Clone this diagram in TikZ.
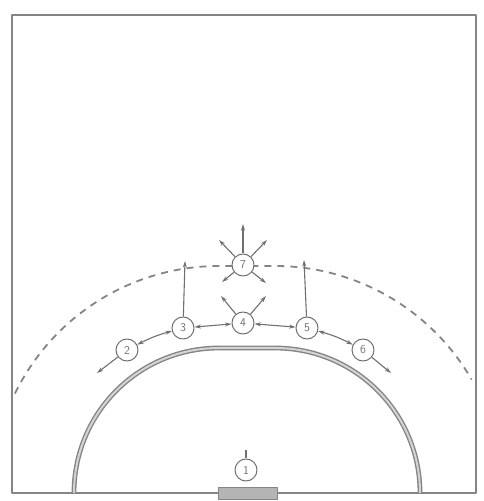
\documentclass[tikz,border=0pt]{standalone}
\usetikzlibrary{arrows.meta, calc}
\definecolor{hbline}{HTML}{858585}
\definecolor{hbplayer}{HTML}{707070}
\definecolor{hbgoal}{HTML}{B4B4B4}
\tikzset{
  every picture/.style={line join=round},
  court/.style={draw=hbline, line width=2.4pt},
  sixm/.style={draw=hbline, line width=1.4pt, double=hbline!35, double distance=2pt},
  ninem/.style={draw=hbline, line width=1.8pt, dash pattern=on 7pt off 6pt},
  goalbox/.style={rectangle, draw=hbline, fill=hbgoal, line width=0.8pt, inner sep=0pt,
    minimum width=59pt, minimum height=12pt},
  player/.style={circle, draw=hbplayer, fill=white, line width=1pt, minimum size=22pt,
    inner sep=0pt, font=\sffamily\large, text=hbplayer},
  run/.style={-{Stealth[length=6.5pt, width=4pt]}, draw=hbplayer, line width=1.1pt},
  pass/.style={{Stealth[length=6.5pt, width=4pt]}-{Stealth[length=6.5pt, width=4pt]},
    draw=hbplayer, line width=1.1pt},
}

\begin{document}
\begin{tikzpicture}[x=1pt, y=1pt]
\useasboundingbox (0,0) rectangle (483,501);

% ---- court, goal and the 6 m / 9 m lines
\draw[court] (12,8) rectangle (476,486);
\node[goalbox] (goal) at (247.5,8) {};
\coordinate (lpost) at (219,8);
\coordinate (rpost) at (275,8);
\draw[sixm] ($(lpost)+(-145,0)$) arc[start angle=180, end angle=90, radius=145]
  -- ($(rpost)+(0,145)$) arc[start angle=90, end angle=0, radius=145];
\draw[ninem] ($(lpost)+(154:227)$) arc[start angle=154, end angle=90, radius=227]
  -- ($(rpost)+(0,227)$) arc[start angle=90, end angle=30, radius=227];

% ---- players
\foreach \n/\x/\y in {1/246/31, 2/127/151, 3/183/173, 4/243/178, 5/307/173,
    6/363/151, 7/243/236} {
  \node[player] (p\n) at (\x,\y) {\n};
}

% ---- runs and passes
\coordinate (out2) at (97,128);
\coordinate (out6) at (391,128);
\coordinate (up3) at (185,240);
\coordinate (up5) at (304,241);
\coordinate (fwd7) at (243,277);
\coordinate (left7) at (219,261);
\coordinate (right7) at (267,261);
\coordinate (dl7) at (222,219);
\coordinate (dr7) at (266,218);
\coordinate (ul4) at (221,205);
\coordinate (ur4) at (266,205);
\coordinate (top1) at (246,51);
\foreach \a/\b in {p2/out2, p6/out6, p3/up3, p5/up5, p7/fwd7, p7/left7, p7/right7,
    p7/dl7, p7/dr7, p4/ul4, p4/ur4} {
  \draw[run] (\a) -- (\b);
}
\draw[pass] (p2) to[bend left=6] (p3);
\draw[pass] (p3) -- (p4);
\draw[pass] (p4) -- (p5);
\draw[pass] (p5) to[bend left=6] (p6);
\draw[draw=hbplayer, line width=1.1pt] (p1) -- (top1);

\end{tikzpicture}
\end{document}
